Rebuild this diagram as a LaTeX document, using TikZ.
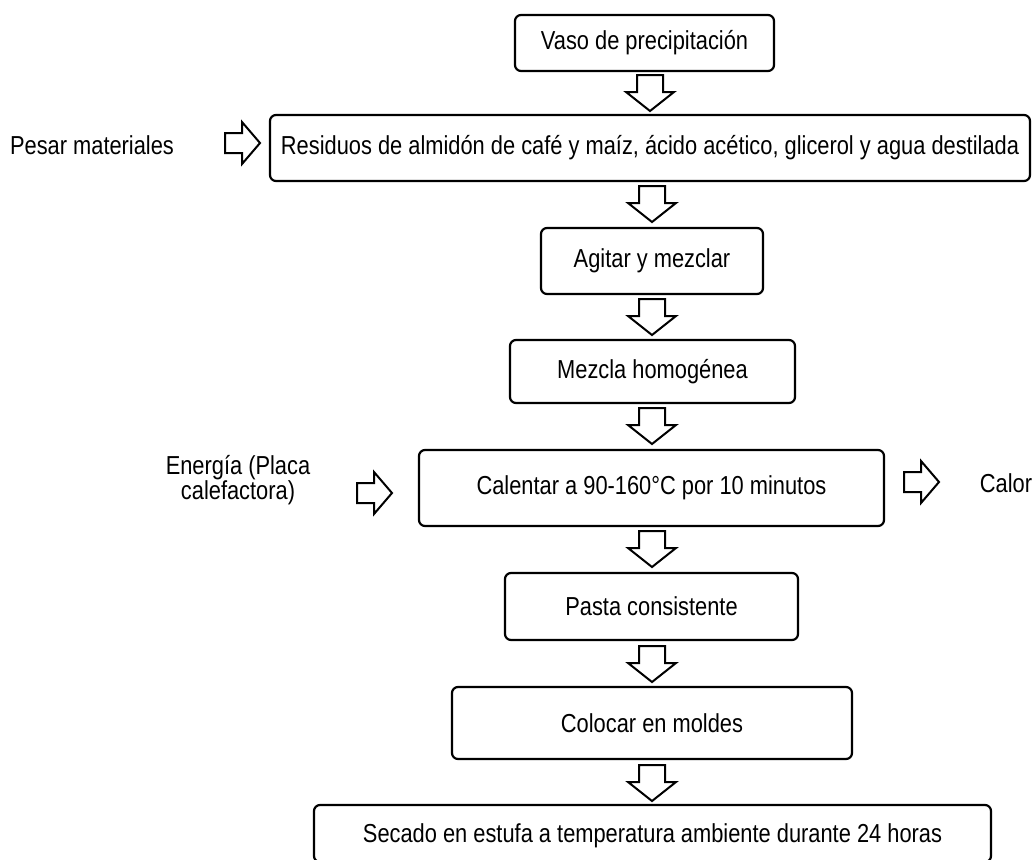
\documentclass[tikz,border=0pt]{standalone}
\usepackage{fontspec}
\setmainfont{Liberation Sans}[FakeStretch=0.84]
\tikzset{
  box/.style={draw, line width=2.2pt, rounded corners=6pt, inner sep=0pt, align=center, font=\fontsize{26}{30}\selectfont},
  lbl/.style={inner sep=0pt, align=center, font=\fontsize{26}{25}\selectfont},
  barrow/.style={draw, line width=2pt, fill=white, line join=miter}
}
\newcommand\downarr[1]{\draw[barrow] (#1) ++(-13,0) -- ++(0,17) -- ++(-11,0) -- ++(24,19) -- ++(24,-19) -- ++(-11,0) -- ++(0,-17) -- cycle;}
\newcommand\rightarr[1]{\draw[barrow] (#1) ++(0,-10) -- ++(17,0) -- ++(0,-11) -- ++(18,21) -- ++(-18,21) -- ++(0,-11) -- ++(-17,0) -- cycle;}
\begin{document}
\begin{tikzpicture}[x=1pt,y=-1pt]
\useasboundingbox (0,0) rectangle (1035,859);
\clip (0,0) rectangle (1035,859);
\node[box, minimum width=259pt, minimum height=56pt] (b1) at (644.5,43) {Vaso de precipitación};
\node[box, minimum width=760pt, minimum height=66pt] (b2) at (650,148) {Residuos de almidón de café y maíz, ácido acético, glicerol y agua destilada};
\node[box, minimum width=222pt, minimum height=66pt] (b3) at (652,261) {Agitar y mezclar};
\node[box, minimum width=285pt, minimum height=63pt] (b4) at (652.5,371.5) {Mezcla homogénea};
\node[box, minimum width=465pt, minimum height=76pt] (b5) at (651.5,488) {Calentar a 90-160°C por 10 minutos};
\node[box, minimum width=293pt, minimum height=67pt] (b6) at (651.5,606.5) {Pasta consistente};
\node[box, minimum width=400pt, minimum height=72pt] (b7) at (652,723) {Colocar en moldes};
\node[box, minimum width=677pt, minimum height=57pt, text depth=0pt] (b8) at (652.5,833.5) {Secado en estufa a temperatura ambiente durante 24 horas};
\node[lbl] (pesar) at (92,145) {Pesar materiales};
\node[lbl] (energia) at (238,480) {Energía (Placa\\calefactora)};
\node[lbl] (calor) at (1006,483) {Calor};
\coordinate (d1) at (650,75);
\coordinate (d2) at (652,186);
\coordinate (d3) at (652,299);
\coordinate (d4) at (652,408);
\coordinate (d5) at (652,531);
\coordinate (d6) at (652,646);
\coordinate (d7) at (652,765);
\coordinate (rp) at (225,143);
\coordinate (re) at (357,493);
\coordinate (rc) at (904,482);
\downarr{d1}
\downarr{d2}
\downarr{d3}
\downarr{d4}
\downarr{d5}
\downarr{d6}
\downarr{d7}
\rightarr{rp}
\rightarr{re}
\rightarr{rc}
\end{tikzpicture}
\end{document}
